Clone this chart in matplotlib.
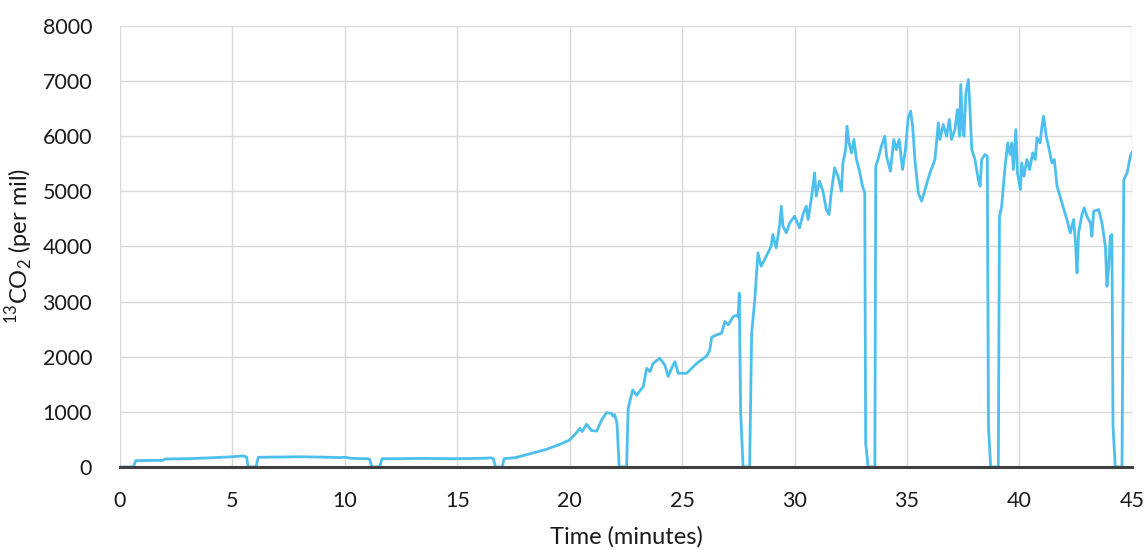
import numpy as np
import matplotlib.pyplot as plt

plt.rcParams['font.family'] = ['Lato', 'DejaVu Sans']
plt.rcParams['mathtext.fontset'] = 'custom'
plt.rcParams['mathtext.rm'] = 'Lato'

# Zeit (Minuten) und 13CO2 (per mil)
time_min = [
    0.0, 0.6, 0.7, 1.9, 2.0, 3.0, 4.0, 5.0, 5.47, 5.63, 5.7, 6.05, 6.15, 7.0, 8.0, 9.0, 9.8,
    10.0, 10.3, 11.0, 11.1, 11.2, 11.55, 11.65, 12.5, 13.5, 14.5, 15.5, 16.3, 16.5, 16.6,
    16.7, 17.0, 17.08, 17.6, 18.2, 18.97, 19.56, 20.0, 20.3, 20.45, 20.55, 20.75, 20.97,
    21.2, 21.42, 21.64, 21.86, 21.93, 22.0, 22.1, 22.2, 22.53, 22.6, 22.8, 22.97, 23.27,
    23.42, 23.57, 23.71, 24.0, 24.23, 24.38, 24.53, 24.68, 24.82, 25.2, 25.65, 26.1, 26.23,
    26.31, 26.53, 26.75, 26.9, 27.05, 27.27, 27.42, 27.49, 27.54, 27.6, 27.71, 28.0, 28.09,
    28.23, 28.37, 28.51, 28.74, 28.96, 29.03, 29.18, 29.33, 29.41, 29.48, 29.63, 29.78,
    30.0, 30.22, 30.37, 30.52, 30.6, 30.74, 30.89, 30.96, 31.11, 31.26, 31.41, 31.53,
    31.63, 31.78, 31.93, 32.08, 32.15, 32.27, 32.33, 32.42, 32.53, 32.64, 32.75, 32.87,
    33.02, 33.12, 33.16, 33.27, 33.57, 33.61, 33.71, 33.86, 34.01, 34.09, 34.26, 34.41,
    34.53, 34.65, 34.8, 34.93, 35.05, 35.16, 35.25, 35.35, 35.5, 35.65, 35.8, 36.02,
    36.24, 36.39, 36.46, 36.61, 36.76, 36.88, 36.98, 37.13, 37.24, 37.33, 37.39, 37.47,
    37.53, 37.62, 37.73, 37.8, 37.88, 38.02, 38.17, 38.25, 38.32, 38.47, 38.57, 38.62,
    38.72, 39.06, 39.11, 39.21, 39.36, 39.48, 39.58, 39.66, 39.73, 39.84, 39.91, 40.04,
    40.1, 40.2, 40.33, 40.45, 40.59, 40.7, 40.78, 40.92, 41.0, 41.07, 41.19, 41.29,
    41.44, 41.55, 41.67, 41.89, 42.11, 42.26, 42.41, 42.49, 42.56, 42.63, 42.78, 42.88,
    43.0, 43.15, 43.22, 43.3, 43.52, 43.67, 43.82, 43.89, 43.97, 44.04, 44.11, 44.16,
    44.26, 44.56, 44.64, 44.79, 44.93, 45.0,
]
co2_13 = [
    0, 0, 115, 120, 145, 150, 165, 185, 200, 180, 0, 0, 175, 180, 185, 178, 170,
    175, 155, 150, 140, 0, 0, 150, 150, 155, 150, 152, 160, 165, 150,
    0, 0, 150, 170, 236, 320, 411, 490, 623, 702, 640, 775, 660,
    650, 853, 986, 970, 920, 950, 800, 0, 0, 1070, 1397, 1300, 1458,
    1790, 1730, 1880, 1972, 1850, 1640, 1790, 1911, 1700, 1700, 1880, 2015, 2123,
    2353, 2395, 2426, 2637, 2580, 2728, 2750, 2720, 3152, 1000, 0, 0, 2430,
    3030, 3884, 3642, 3823, 4005, 4217, 3975, 4368, 4731, 4368, 4247, 4428,
    4549, 4337, 4580, 4731, 4489, 4852, 5336, 4912, 5185, 5003, 4670, 4580,
    4973, 5427, 5275, 5003, 5517, 5759, 6183, 5880, 5699, 5941, 5578, 5396,
    5094, 4973, 436, 0, 0, 5457, 5578, 5820, 6001, 5638, 5366, 5941,
    5759, 5941, 5396, 5759, 6334, 6455, 6183, 5578, 4973, 4822, 5033, 5336,
    5578, 6243, 5941, 6213, 6001, 6304, 5941, 6122, 6485, 6001, 6939, 6122,
    6001, 6788, 7030, 6485, 5759, 5578, 5215, 5094, 5578, 5669, 5638, 738,
    0, 0, 4549, 4731, 5457, 5880, 5669, 5880, 5396, 6122, 5336, 5033,
    5517, 5275, 5578, 5396, 5699, 5578, 5971, 5880, 6183, 6364, 6001, 5820,
    5517, 5578, 5094, 4791, 4489, 4247, 4489, 4065, 3521, 4247, 4580, 4701,
    4549, 4428, 4186, 4640, 4670, 4428, 4005, 3279, 3642, 4186, 4217, 738,
    0, 0, 5215, 5336, 5638, 5699,
]

x_ticks = np.arange(0, 46, 5)
y_ticks = np.arange(0, 8001, 1000)

fig = plt.figure(figsize=(11.46, 5.5), dpi=100)
ax = fig.add_axes([0.1047, 0.151, 0.883, 0.8017])

ax.plot(time_min, co2_13, color="#4DBFEC", linewidth=2.0, zorder=2)
ax.axhline(0, color="#404040", linewidth=2.2, zorder=3, clip_on=False)

ax.set_xlim(0, 45)
ax.set_ylim(0, 8000)
ax.set_xticks(x_ticks)
ax.set_yticks(y_ticks)
ax.grid(True, color="#d9d9d9", linewidth=1.0, zorder=0)
for s in ax.spines.values():
    s.set_visible(False)
ax.tick_params(length=0, labelsize=15.5, colors="#1a1a1a")
ax.tick_params(axis="y", pad=20)
ax.tick_params(axis="x", pad=17)

ax.set_xlabel("Time (minutes)", fontsize=17, color="#1a1a1a")
ax.set_ylabel(r"$^{13}$CO$_2$ (per mil)", fontsize=17, color="#1a1a1a")
ax.xaxis.set_label_coords(0.5, -0.134)
ax.yaxis.set_label_coords(-0.083, 0.5)

fig.savefig("out.png", dpi=100)
